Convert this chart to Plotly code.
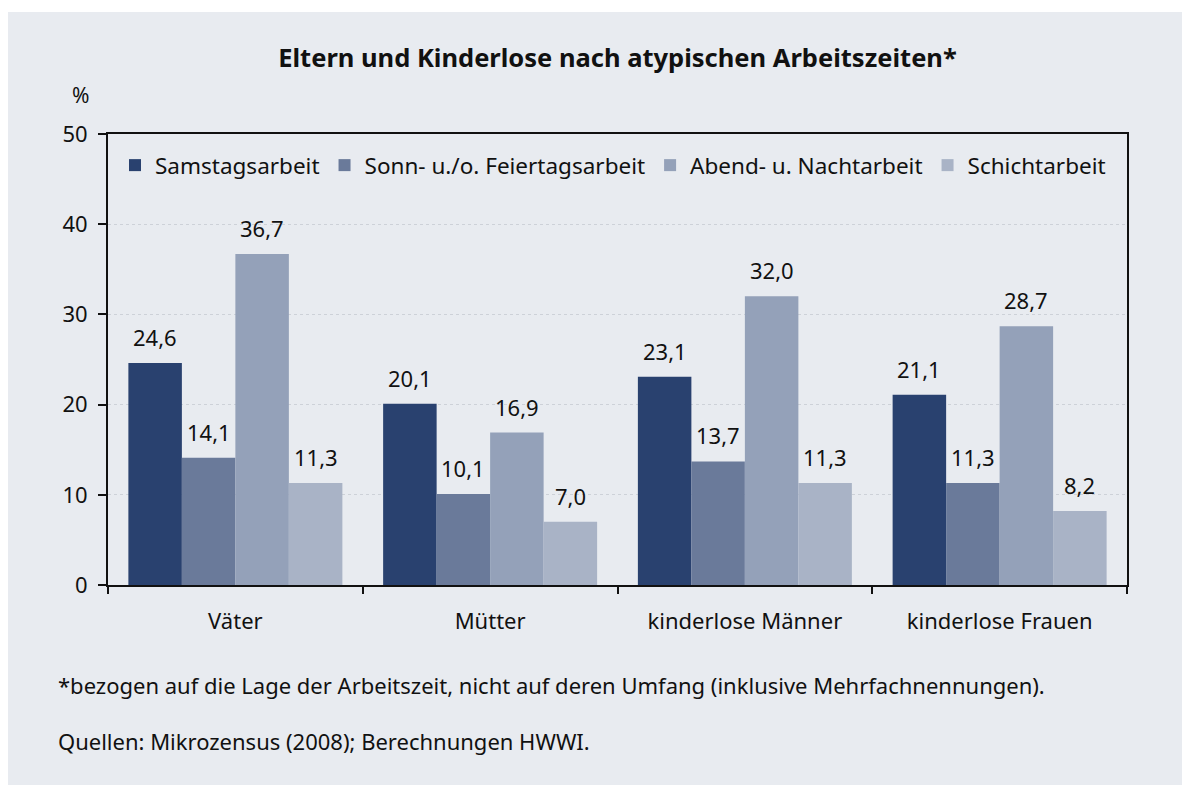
import plotly.graph_objects as go

categories = ["Väter", "Mütter", "kinderlose Männer", "kinderlose Frauen"]
series_names = ["Samstagsarbeit", "Sonn- u./o. Feiertagsarbeit", "Abend- u. Nachtarbeit", "Schichtarbeit"]
samstag = [24.6, 20.1, 23.1, 21.1]
sonn = [14.1, 10.1, 13.7, 11.3]
abend = [36.7, 16.9, 32.0, 28.7]
schicht = [11.3, 7.0, 11.3, 8.2]
colors = ["#29416f", "#6a7a9a", "#94a1b9", "#a9b3c6"]
title = "Eltern und Kinderlose nach atypischen Arbeitszeiten*"
note1 = "*bezogen auf die Lage der Arbeitszeit, nicht auf deren Umfang (inklusive Mehrfachnennungen)."
note2 = "Quellen: Mikrozensus (2008); Berechnungen HWWI."

series = [samstag, sonn, abend, schicht]
FONT = "Noto Sans"
TXT = "#111111"
BARGAP = 0.16

# the page places the figure 8px from the top-left corner of the window
OFF = 8
W, H = 1190 - OFF, 785 - OFF
# desired plot area in window pixels
PL, PR, PT, PB = 108, 1127, 134, 585
ML, MR, MT, MB = PL - OFF, W - (PR - OFF), PT - OFF, H - (PB - OFF)
PW, PH = W - ML - MR, H - MT - MB


def px_x(p):
    return (p - PL) / PW


def px_y(p):
    return (PB - p) / PH


fig = go.Figure()
for name, vals, col in zip(series_names, series, colors):
    fig.add_trace(go.Bar(x=categories, y=vals, name=name, marker=dict(color=col, line=dict(width=0))))

# value labels above bars
n = len(series)
bw = (1 - BARGAP) / n
annotations = []
for j, vals in enumerate(series):
    off = -(1 - BARGAP) / 2 + bw * (j + 0.5)
    for i, v in enumerate(vals):
        annotations.append(dict(x=i + off, y=v, xref="x", yref="y", text=f"{v:.1f}".replace(".", ","),
                                showarrow=False, yanchor="bottom", yshift=9,
                                font=dict(family=FONT, size=22, color=TXT)))

annotations.append(dict(x=px_x(80), y=px_y(95), xref="paper", yref="paper", text="%", showarrow=False,
                        xanchor="center", yanchor="middle", font=dict(family=FONT, size=21, color=TXT)))
annotations.append(dict(x=px_x(56), y=px_y(685), xref="paper", yref="paper", text=note1, showarrow=False,
                        xanchor="left", yanchor="middle", font=dict(family=FONT, size=22, color=TXT)))
annotations.append(dict(x=px_x(56), y=px_y(741), xref="paper", yref="paper", text=note2, showarrow=False,
                        xanchor="left", yanchor="middle", font=dict(family=FONT, size=22, color=TXT)))

fig.update_layout(
    width=W, height=H,
    margin=dict(l=ML, r=MR, t=MT, b=MB, pad=0),
    paper_bgcolor="white",
    plot_bgcolor="rgba(0,0,0,0)",
    barmode="group",
    bargap=BARGAP,
    bargroupgap=0,
    font=dict(family=FONT, size=22, color=TXT),
    title=dict(text=f"<b>{title}</b>", x=0.5, xref="paper", xanchor="center",
               y=1 - (58 - OFF) / H, yref="container", yanchor="middle",
               font=dict(family=FONT, size=25.5, color=TXT)),
    legend=dict(orientation="h", x=7 / PW, xanchor="left", y=1 - 10 / PH, yanchor="top",
                bgcolor="rgba(0,0,0,0)", font=dict(family=FONT, size=22.5, color=TXT),
                itemwidth=30, traceorder="normal"),
    xaxis=dict(type="category", tickson="boundaries", ticks="outside", ticklen=7, tickwidth=2,
               tickcolor=TXT, showline=True, linecolor=TXT, linewidth=2, mirror=True,
               showgrid=False, tickfont=dict(family=FONT, size=22, color=TXT), ticklabelstandoff=16,
               range=[-0.5, len(categories) - 0.5]),
    yaxis=dict(range=[0, 50], dtick=10, ticks="outside", ticklen=8, tickwidth=2, tickcolor=TXT,
               showline=True, linecolor=TXT, linewidth=2, mirror=True, ticklabelstandoff=6,
               showgrid=True, gridcolor="#cdd1d8", gridwidth=1, griddash="dot", zeroline=False,
               tickfont=dict(family=FONT, size=22, color=TXT)),
    annotations=annotations,
    shapes=[dict(type="rect", xref="paper", yref="paper", x0=px_x(OFF), x1=px_x(1200), y0=px_y(800), y1=px_y(12),
                 fillcolor="#e8ebf0", line=dict(width=0), layer="below")],
)

fig.write_html("out.html")
